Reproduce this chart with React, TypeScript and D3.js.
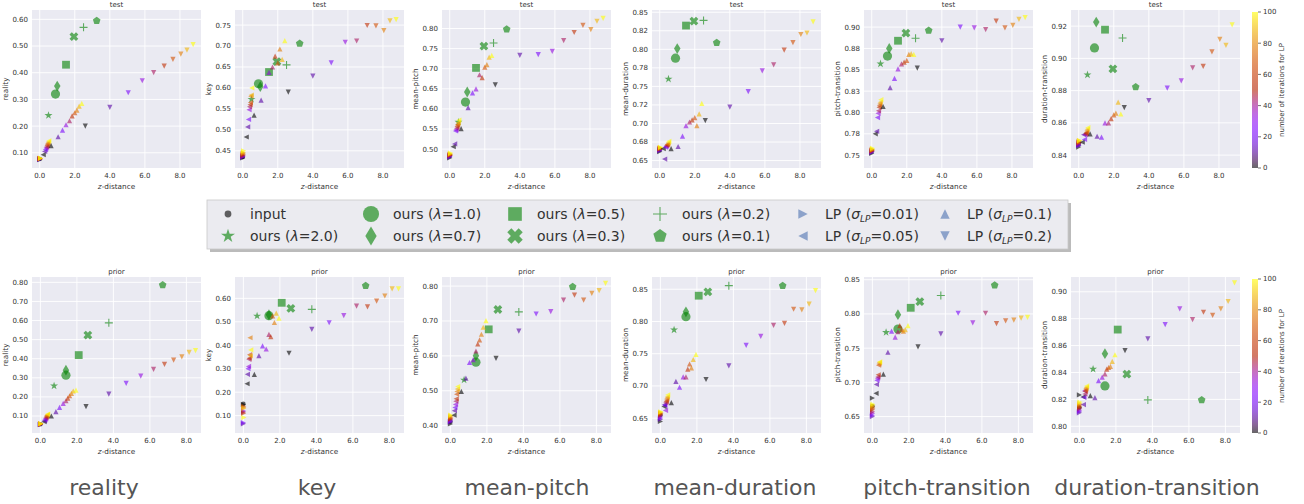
import React from 'react';
import * as d3 from 'd3';

// ---- categories / legend -------------------------------------------------
const METRICS = ['reality', 'key', 'mean-pitch', 'mean-duration', 'pitch-transition', 'duration-transition'];
const OURS_LAMBDA = ['2.0', '1.0', '0.7', '0.5', '0.3', '0.2', '0.1'];
const OURS_SHAPES = ['star', 'circle', 'thin_diamond', 'square', 'xfilled', 'plus', 'pentagon'];
const LP_SIGMA = ['0.01', '0.05', '0.1', '0.2'];
const LP_SHAPES = ['tri_right', 'tri_left', 'tri_up', 'tri_down'];
const LP_ITERS = [0, 11, 22, 33, 44, 56, 67, 78, 89, 100];
const CBAR_TICKS = [0, 20, 40, 60, 80, 100];

// ---- z-distance (x) ------------------------------------------------------
const TEST_Z_INPUT = 0.0;
const TEST_Z_OURS = [0.5, 0.9, 1.0, 1.5, 1.95, 2.5, 3.25];
const TEST_Z_LP = [
  [0.0, 0.0, 0.01, 0.01, 0.02, 0.02, 0.03, 0.03, 0.04, 0.05],
  [0.2, 0.28, 0.33, 0.36, 0.39, 0.42, 0.44, 0.46, 0.49, 0.52],
  [0.65, 1.05, 1.3, 1.5, 1.7, 1.85, 2.0, 2.12, 2.25, 2.4],
  [2.6, 4.0, 5.05, 5.85, 6.5, 7.1, 7.6, 8.05, 8.4, 8.75],
];
const PRIOR_Z_INPUT = 0.0;
const PRIOR_Z_OURS = [0.75, 1.4, 1.4, 2.1, 2.6, 3.75, 6.7];
const PRIOR_Z_LP = [
  [0.0, 0.0, 0.0, 0.01, 0.01, 0.01, 0.02, 0.02, 0.02, 0.03],
  [0.2, 0.22, 0.25, 0.28, 0.3, 0.32, 0.34, 0.36, 0.38, 0.4],
  [0.6, 0.85, 1.05, 1.25, 1.4, 1.5, 1.6, 1.7, 1.8, 1.95],
  [2.5, 3.75, 4.7, 5.5, 6.2, 6.8, 7.3, 7.75, 8.15, 8.5],
];

// ---- metric values (y), test row -----------------------------------------
const TEST_INPUT_Y = [0.077, 0.435, 0.484, 0.665, 0.755, 0.847];
const TEST_OURS_Y = [
  [0.24, 0.32, 0.35, 0.43, 0.535, 0.57, 0.595],
  [0.573, 0.61, 0.603, 0.638, 0.663, 0.655, 0.706],
  [0.567, 0.617, 0.642, 0.702, 0.756, 0.764, 0.798],
  [0.76, 0.788, 0.801, 0.832, 0.838, 0.839, 0.809],
  [0.857, 0.866, 0.875, 0.884, 0.893, 0.887, 0.896],
  [0.8898, 0.9065, 0.9225, 0.9178, 0.8935, 0.9126, 0.8823],
];
const TEST_LP_REALITY = [
  [0.074, 0.075, 0.076, 0.077, 0.077, 0.078, 0.078, 0.079, 0.079, 0.08],
  [0.093, 0.105, 0.112, 0.118, 0.122, 0.127, 0.132, 0.136, 0.14, 0.145],
  [0.127, 0.16, 0.185, 0.205, 0.22, 0.238, 0.25, 0.26, 0.275, 0.285],
  [0.2, 0.27, 0.325, 0.37, 0.4, 0.425, 0.45, 0.47, 0.485, 0.505],
];
const TEST_LP_KEY = [
  [0.433, 0.435, 0.436, 0.437, 0.438, 0.44, 0.442, 0.444, 0.446, 0.45],
  [0.483, 0.507, 0.525, 0.548, 0.555, 0.56, 0.565, 0.58, 0.583, 0.6],
  [0.535, 0.571, 0.605, 0.637, 0.65, 0.676, 0.66, 0.693, 0.668, 0.713],
  [0.59, 0.628, 0.66, 0.709, 0.712, 0.749, 0.748, 0.737, 0.76, 0.763],
];
const TEST_LP_MEANPITCH = [
  [0.478, 0.48, 0.482, 0.483, 0.484, 0.485, 0.486, 0.487, 0.488, 0.49],
  [0.506, 0.513, 0.545, 0.548, 0.552, 0.556, 0.56, 0.562, 0.566, 0.572],
  [0.551, 0.603, 0.64, 0.65, 0.685, 0.678, 0.704, 0.71, 0.729, 0.733],
  [0.66, 0.733, 0.735, 0.743, 0.77, 0.79, 0.808, 0.797, 0.818, 0.825],
];
const TEST_LP_MEANDUR = [
  [0.662, 0.663, 0.664, 0.665, 0.665, 0.666, 0.666, 0.667, 0.667, 0.668],
  [0.666, 0.652, 0.668, 0.669, 0.67, 0.671, 0.672, 0.672, 0.674, 0.676],
  [0.666, 0.669, 0.683, 0.697, 0.702, 0.705, 0.708, 0.697, 0.713, 0.727],
  [0.704, 0.722, 0.743, 0.771, 0.779, 0.799, 0.809, 0.82, 0.822, 0.837],
];
const TEST_LP_PITCHTR = [
  [0.752, 0.753, 0.754, 0.754, 0.755, 0.755, 0.756, 0.756, 0.757, 0.758],
  [0.775, 0.778, 0.794, 0.799, 0.802, 0.806, 0.808, 0.81, 0.812, 0.815],
  [0.807, 0.829, 0.84, 0.851, 0.857, 0.859, 0.861, 0.868, 0.869, 0.868],
  [0.852, 0.884, 0.9, 0.899, 0.897, 0.907, 0.899, 0.902, 0.909, 0.911],
];
const TEST_LP_DURTR = [
  [0.845, 0.846, 0.846, 0.847, 0.847, 0.848, 0.848, 0.848, 0.849, 0.849],
  [0.848, 0.8527, 0.8497, 0.8527, 0.853, 0.8535, 0.854, 0.855, 0.856, 0.857],
  [0.8532, 0.8517, 0.8511, 0.86, 0.86, 0.8626, 0.865, 0.866, 0.8728, 0.8655],
  [0.8695, 0.8738, 0.8815, 0.886, 0.8941, 0.895, 0.904, 0.9118, 0.908, 0.9208],
];

// ---- metric values (y), prior row ----------------------------------------
const PRIOR_INPUT_Y = [0.057, 0.15, 0.412, 0.655, 0.665, 0.814];
const PRIOR_OURS_Y = [
  [0.258, 0.314, 0.34, 0.419, 0.524, 0.588, 0.786],
  [0.525, 0.526, 0.53, 0.581, 0.557, 0.553, 0.654],
  [0.531, 0.582, 0.6, 0.676, 0.733, 0.726, 0.798],
  [0.787, 0.8075, 0.815, 0.84, 0.846, 0.8556, 0.8556],
  [0.773, 0.778, 0.799, 0.809, 0.818, 0.827, 0.842],
  [0.8425, 0.83, 0.854, 0.8719, 0.8388, 0.8196, 0.8196],
];
const PRIOR_LP_REALITY = [
  [0.055, 0.056, 0.056, 0.057, 0.057, 0.058, 0.058, 0.059, 0.059, 0.06],
  [0.07, 0.075, 0.08, 0.085, 0.09, 0.095, 0.1, 0.103, 0.107, 0.11],
  [0.1, 0.123, 0.145, 0.166, 0.18, 0.194, 0.206, 0.219, 0.231, 0.236],
  [0.149, 0.215, 0.271, 0.309, 0.344, 0.37, 0.393, 0.41, 0.433, 0.442],
];
const PRIOR_LP_KEY = [
  [0.148, 0.065, 0.07, 0.12, 0.115, 0.11, 0.14, 0.135, 0.13, 0.092],
  [0.236, 0.276, 0.3, 0.31, 0.34, 0.345, 0.36, 0.432, 0.355, 0.38],
  [0.276, 0.356, 0.397, 0.384, 0.446, 0.437, 0.525, 0.497, 0.537, 0.516],
  [0.366, 0.468, 0.496, 0.526, 0.567, 0.564, 0.588, 0.61, 0.64, 0.64],
];
const PRIOR_LP_MEANPITCH = [
  [0.405, 0.41, 0.412, 0.415, 0.418, 0.42, 0.422, 0.425, 0.428, 0.43],
  [0.43, 0.443, 0.452, 0.461, 0.47, 0.477, 0.49, 0.498, 0.505, 0.512],
  [0.498, 0.536, 0.581, 0.589, 0.614, 0.634, 0.646, 0.662, 0.682, 0.701],
  [0.593, 0.671, 0.72, 0.727, 0.76, 0.774, 0.76, 0.779, 0.787, 0.808],
];
const PRIOR_LP_MEANDUR = [
  [0.645, 0.648, 0.65, 0.652, 0.654, 0.656, 0.657, 0.658, 0.659, 0.66],
  [0.668, 0.671, 0.67, 0.662, 0.674, 0.676, 0.678, 0.681, 0.683, 0.686],
  [0.674, 0.707, 0.698, 0.714, 0.714, 0.726, 0.734, 0.728, 0.741, 0.749],
  [0.71, 0.731, 0.763, 0.777, 0.794, 0.797, 0.819, 0.818, 0.827, 0.848],
];
const PRIOR_LP_PITCHTR = [
  [0.677, 0.65, 0.652, 0.655, 0.657, 0.66, 0.662, 0.664, 0.666, 0.668],
  [0.684, 0.697, 0.703, 0.706, 0.708, 0.711, 0.725, 0.727, 0.729, 0.73],
  [0.712, 0.744, 0.775, 0.766, 0.774, 0.783, 0.777, 0.775, 0.777, 0.783],
  [0.752, 0.771, 0.801, 0.787, 0.801, 0.786, 0.79, 0.791, 0.794, 0.795],
];
const PRIOR_LP_DURTR = [
  [0.8233, 0.81, 0.811, 0.812, 0.813, 0.814, 0.815, 0.816, 0.817, 0.818],
  [0.8218, 0.8161, 0.8215, 0.8263, 0.824, 0.826, 0.827, 0.828, 0.829, 0.83],
  [0.8228, 0.8213, 0.834, 0.8366, 0.839, 0.8425, 0.8437, 0.8445, 0.8482, 0.8532],
  [0.8562, 0.865, 0.8756, 0.8873, 0.8793, 0.8848, 0.8825, 0.8873, 0.8928, 0.9067],
];

// ---- axis limits and ticks -----------------------------------------------
const TEST_X_DOMAIN = [-0.44, 9.2];
const PRIOR_X_DOMAIN = [-0.46, 8.8];
const X_TICKS = [0, 2, 4, 6, 8];
const TEST_Y_DOMAINS = [[0.043, 0.635], [0.409, 0.786], [0.453, 0.846], [0.640, 0.853], [0.735, 0.920], [0.832, 0.930]];
const PRIOR_Y_DOMAINS = [[0.011, 0.828], [0.026, 0.691], [0.379, 0.826], [0.627, 0.869], [0.626, 0.854], [0.795, 0.911]];
const TEST_Y_TICKS = [
  [0.1, 0.2, 0.3, 0.4, 0.5, 0.6],
  [0.45, 0.5, 0.55, 0.6, 0.65, 0.7, 0.75],
  [0.5, 0.55, 0.6, 0.65, 0.7, 0.75, 0.8],
  [0.65, 0.675, 0.7, 0.725, 0.75, 0.775, 0.8, 0.825, 0.85],
  [0.75, 0.775, 0.8, 0.825, 0.85, 0.875, 0.9],
  [0.84, 0.86, 0.88, 0.9, 0.92],
];
const TEST_Y_LABELS = [
  null, null, null,
  ['0.65', '0.68', '0.70', '0.72', '0.75', '0.78', '0.80', '0.82', '0.85'],
  ['0.75', '0.78', '0.80', '0.83', '0.85', '0.88', '0.90'],
  null,
];
const PRIOR_Y_TICKS = [
  [0.1, 0.2, 0.3, 0.4, 0.5, 0.6, 0.7, 0.8],
  [0.1, 0.2, 0.3, 0.4, 0.5, 0.6],
  [0.4, 0.5, 0.6, 0.7, 0.8],
  [0.65, 0.7, 0.75, 0.8, 0.85],
  [0.65, 0.7, 0.75, 0.8, 0.85],
  [0.8, 0.82, 0.84, 0.86, 0.88, 0.9],
];
const PRIOR_Y_LABELS = [null, null, null, null, null, null];

// ---- layout --------------------------------------------------------------
const W = 1304;
const H = 504;
const PANEL_LEFT = [32, 235, 442, 652, 864, 1071];
const PW = 169;
const FONT = 'DejaVu Sans, sans-serif';
const TXT = '#333';
const BG = '#eaeaf2';

function gnuplot(t) {
  var r = Math.sqrt(t), g = t * t * t, b = Math.max(0, Math.sin(2 * Math.PI * t));
  return d3.rgb(r * 255, g * 255, b * 255).formatHex();
}

function poly(pts) {
  return 'M' + pts.map(function (p) { return p[0].toFixed(2) + ',' + p[1].toFixed(2); }).join('L') + 'Z';
}

function markerPath(shape, s) {
  switch (shape) {
    case 'circle': return 'M' + s + ',0A' + s + ',' + s + ' 0 1,1 ' + (-s) + ',0A' + s + ',' + s + ' 0 1,1 ' + s + ',0Z';
    case 'square': return poly([[-s, -s], [s, -s], [s, s], [-s, s]]);
    case 'thin_diamond': return poly([[0, -s], [s * 0.6, 0], [0, s], [-s * 0.6, 0]]);
    case 'pentagon': return poly(d3.range(5).map(function (i) {
      var a = -Math.PI / 2 + i * 2 * Math.PI / 5; return [s * Math.cos(a), s * Math.sin(a)];
    }));
    case 'star': return poly(d3.range(10).map(function (i) {
      var a = -Math.PI / 2 + i * Math.PI / 5; var r = i % 2 ? s * 0.382 : s; return [r * Math.cos(a), r * Math.sin(a)];
    }));
    case 'xfilled': {
      var w = s * 0.36, c = Math.SQRT1_2;
      var pts = [[w, s], [w, w], [s, w], [s, -w], [w, -w], [w, -s], [-w, -s], [-w, -w], [-s, -w], [-s, w], [-w, w], [-w, s]];
      return poly(pts.map(function (p) { return [(p[0] - p[1]) * c, (p[0] + p[1]) * c]; }));
    }
    case 'plus': return 'M' + (-s) + ',0H' + s + 'M0,' + (-s) + 'V' + s;
    case 'tri_up': return poly([[0, -s], [-s, s], [s, s]]);
    case 'tri_down': return poly([[0, s], [-s, -s], [s, -s]]);
    case 'tri_left': return poly([[-s, 0], [s, -s], [s, s]]);
    case 'tri_right': return poly([[s, 0], [-s, -s], [-s, s]]);
  }
  return '';
}

const OURS_SIZE = { star: 4.2, circle: 4.6, thin_diamond: 5.4, square: 3.9, xfilled: 4.6, plus: 4, pentagon: 4 };
const LP_SIZE = 2.6;

function Marker({ shape, s, x, y, color, opacity }) {
  if (shape === 'plus') {
    return <path transform={'translate(' + x + ',' + y + ')'} d={markerPath(shape, s)} fill="none" stroke={color} strokeOpacity={opacity} strokeWidth={1.1} />;
  }
  return <path transform={'translate(' + x + ',' + y + ')'} d={markerPath(shape, s)} fill={color} fillOpacity={opacity} />;
}

function Panel({ row, mi }) {
  var left = PANEL_LEFT[mi];
  var x = d3.scaleLinear().domain(row.xDomain).range([left, left + PW]);
  var y = d3.scaleLinear().domain(row.yDomains[mi]).range([row.bottom, row.top]);
  var ticks = row.yTicks[mi];
  var labels = row.yLabels[mi] || ticks.map(function (t) { return t.toFixed(2); });
  var lp = row.lp[mi];
  return (
    <g>
      <rect x={left} y={row.top} width={PW} height={row.bottom - row.top} fill={BG} />
      {X_TICKS.map(function (t) {
        return <line key={'gx' + t} x1={x(t)} x2={x(t)} y1={row.top} y2={row.bottom} stroke="#fff" strokeWidth={0.9} />;
      })}
      {ticks.map(function (t) {
        return <line key={'gy' + t} x1={left} x2={left + PW} y1={y(t)} y2={y(t)} stroke="#fff" strokeWidth={0.9} />;
      })}
      {X_TICKS.map(function (t) {
        return <text key={'tx' + t} x={x(t)} y={row.bottom + 10} textAnchor="middle" fontSize={7} fill={TXT}>{t.toFixed(1)}</text>;
      })}
      {ticks.map(function (t, i) {
        return <text key={'ty' + t} x={left - 4} y={y(t)} dy="0.35em" textAnchor="end" fontSize={7} fill={TXT}>{labels[i]}</text>;
      })}
      <text x={left + PW / 2} y={row.bottom + 21} textAnchor="middle" fontSize={7.3} fill={TXT}>
        <tspan fontStyle="italic">z</tspan>-distance
      </text>
      <text transform={'translate(' + (left - 24) + ',' + ((row.top + row.bottom) / 2) + ') rotate(-90)'} textAnchor="middle" fontSize={7.3} fill={TXT}>{METRICS[mi]}</text>
      <text x={left + PW / 2} y={row.top - 3} textAnchor="middle" fontSize={7} fill={TXT}>{row.title}</text>

      <Marker shape="circle" s={2.3} x={x(row.zInput)} y={y(row.inputY[mi])} color="#000" opacity={0.6} />
      {row.oursY[mi].map(function (v, k) {
        return <Marker key={'o' + k} shape={OURS_SHAPES[k]} s={OURS_SIZE[OURS_SHAPES[k]]} x={x(row.zOurs[k])} y={y(v)} color="#008000" opacity={0.6} />;
      })}
      {lp.map(function (series, j) {
        return series.map(function (v, k) {
          return <Marker key={'lp' + j + '-' + k} shape={LP_SHAPES[j]} s={LP_SIZE} x={x(row.zLp[j][k])} y={y(v)} color={gnuplot(LP_ITERS[k] / 100)} opacity={0.6} />;
        });
      })}
    </g>
  );
}

function Colorbar({ top, bottom, id }) {
  var x0 = 1252, cw = 6;
  var s = d3.scaleLinear().domain([0, 100]).range([bottom, top]);
  var stops = d3.range(0, 1.0001, 0.05);
  return (
    <g>
      <defs>
        <linearGradient id={id} x1="0" y1="1" x2="0" y2="0">
          {stops.map(function (t) {
            return <stop key={t} offset={t} stopColor={gnuplot(t)} stopOpacity={0.6} />;
          })}
        </linearGradient>
      </defs>
      <rect x={x0} y={top} width={cw} height={bottom - top} fill={'url(#' + id + ')'} />
      {CBAR_TICKS.map(function (t) {
        return (
          <g key={t}>
            <line x1={x0 + cw} x2={x0 + cw + 3} y1={s(t)} y2={s(t)} stroke={TXT} strokeWidth={0.7} />
            <text x={x0 + cw + 5} y={s(t)} dy="0.35em" fontSize={7} fill={TXT}>{t}</text>
          </g>
        );
      })}
      <text transform={'translate(' + 1284 + ',' + ((top + bottom) / 2) + ') rotate(-90)'} textAnchor="middle" fontSize={7} fill={TXT}>number of iterations for LP</text>
    </g>
  );
}

const LEGEND_COL_X = [228, 371, 515, 660, 803, 945];
const LEGEND_ROW_Y = [214, 236];

function LegendLabel({ item }) {
  if (item.kind === 'input') return <tspan>input</tspan>;
  if (item.kind === 'ours') return <tspan>ours (<tspan fontStyle="italic">λ</tspan>={item.value})</tspan>;
  return <tspan>LP (<tspan fontStyle="italic">σ</tspan><tspan fontSize={9} dy={3} fontStyle="italic">LP</tspan><tspan dy={-3}>={item.value})</tspan></tspan>;
}

function Legend() {
  var items = [{ kind: 'input', shape: 'circle', s: 3.4, color: '#000' }];
  OURS_LAMBDA.forEach(function (l, k) {
    items.push({ kind: 'ours', value: l, shape: OURS_SHAPES[k], s: OURS_SIZE[OURS_SHAPES[k]] * 1.75, color: '#008000' });
  });
  LP_SIGMA.forEach(function (v, k) {
    items.push({ kind: 'lp', value: v, shape: LP_SHAPES[k], s: LP_SIZE * 1.8, color: '#4c72b0' });
  });
  return (
    <g>
      <rect x={210} y={203} width={861} height={49} fill="#777" opacity={0.5} />
      <rect x={207} y={200} width={861} height={49} fill="#ebebf0" stroke="#c8c8c8" strokeWidth={0.8} />
      {items.map(function (it, i) {
        var col = Math.floor(i / 2), r = i % 2;
        var mx = LEGEND_COL_X[col], my = LEGEND_ROW_Y[r];
        return (
          <g key={i}>
            <Marker shape={it.shape} s={it.s} x={mx} y={my} color={it.color} opacity={0.6} />
            <text x={mx + 22} y={my} dy="0.35em" fontSize={14} fill={TXT}><LegendLabel item={it} /></text>
          </g>
        );
      })}
    </g>
  );
}

const BOTTOM_CENTERS = [104, 317, 527, 735, 947, 1157];

export default function App() {
  var rows = [
    {
      title: 'test', top: 10, bottom: 168, xDomain: TEST_X_DOMAIN, yDomains: TEST_Y_DOMAINS,
      yTicks: TEST_Y_TICKS, yLabels: TEST_Y_LABELS, zInput: TEST_Z_INPUT, zOurs: TEST_Z_OURS, zLp: TEST_Z_LP,
      inputY: TEST_INPUT_Y, oursY: TEST_OURS_Y,
      lp: [TEST_LP_REALITY, TEST_LP_KEY, TEST_LP_MEANPITCH, TEST_LP_MEANDUR, TEST_LP_PITCHTR, TEST_LP_DURTR],
    },
    {
      title: 'prior', top: 277, bottom: 433, xDomain: PRIOR_X_DOMAIN, yDomains: PRIOR_Y_DOMAINS,
      yTicks: PRIOR_Y_TICKS, yLabels: PRIOR_Y_LABELS, zInput: PRIOR_Z_INPUT, zOurs: PRIOR_Z_OURS, zLp: PRIOR_Z_LP,
      inputY: PRIOR_INPUT_Y, oursY: PRIOR_OURS_Y,
      lp: [PRIOR_LP_REALITY, PRIOR_LP_KEY, PRIOR_LP_MEANPITCH, PRIOR_LP_MEANDUR, PRIOR_LP_PITCHTR, PRIOR_LP_DURTR],
    },
  ];
  return (
    <div style={{ position: 'absolute', left: 0, top: 0 }}>
      <svg width={W} height={H} style={{ display: 'block', background: '#fff' }} fontFamily={FONT}>
        {rows.map(function (row) {
          return (
            <g key={row.title}>
              {METRICS.map(function (m, mi) { return <Panel key={m} row={row} mi={mi} />; })}
              <Colorbar top={row.top + 2} bottom={row.bottom} id={'cb-' + row.title} />
            </g>
          );
        })}
        <Legend />
        {METRICS.map(function (m, i) {
          return <text key={m} x={BOTTOM_CENTERS[i]} y={495} textAnchor="middle" fontSize={22} fill="#555">{m}</text>;
        })}
      </svg>
    </div>
  );
}
